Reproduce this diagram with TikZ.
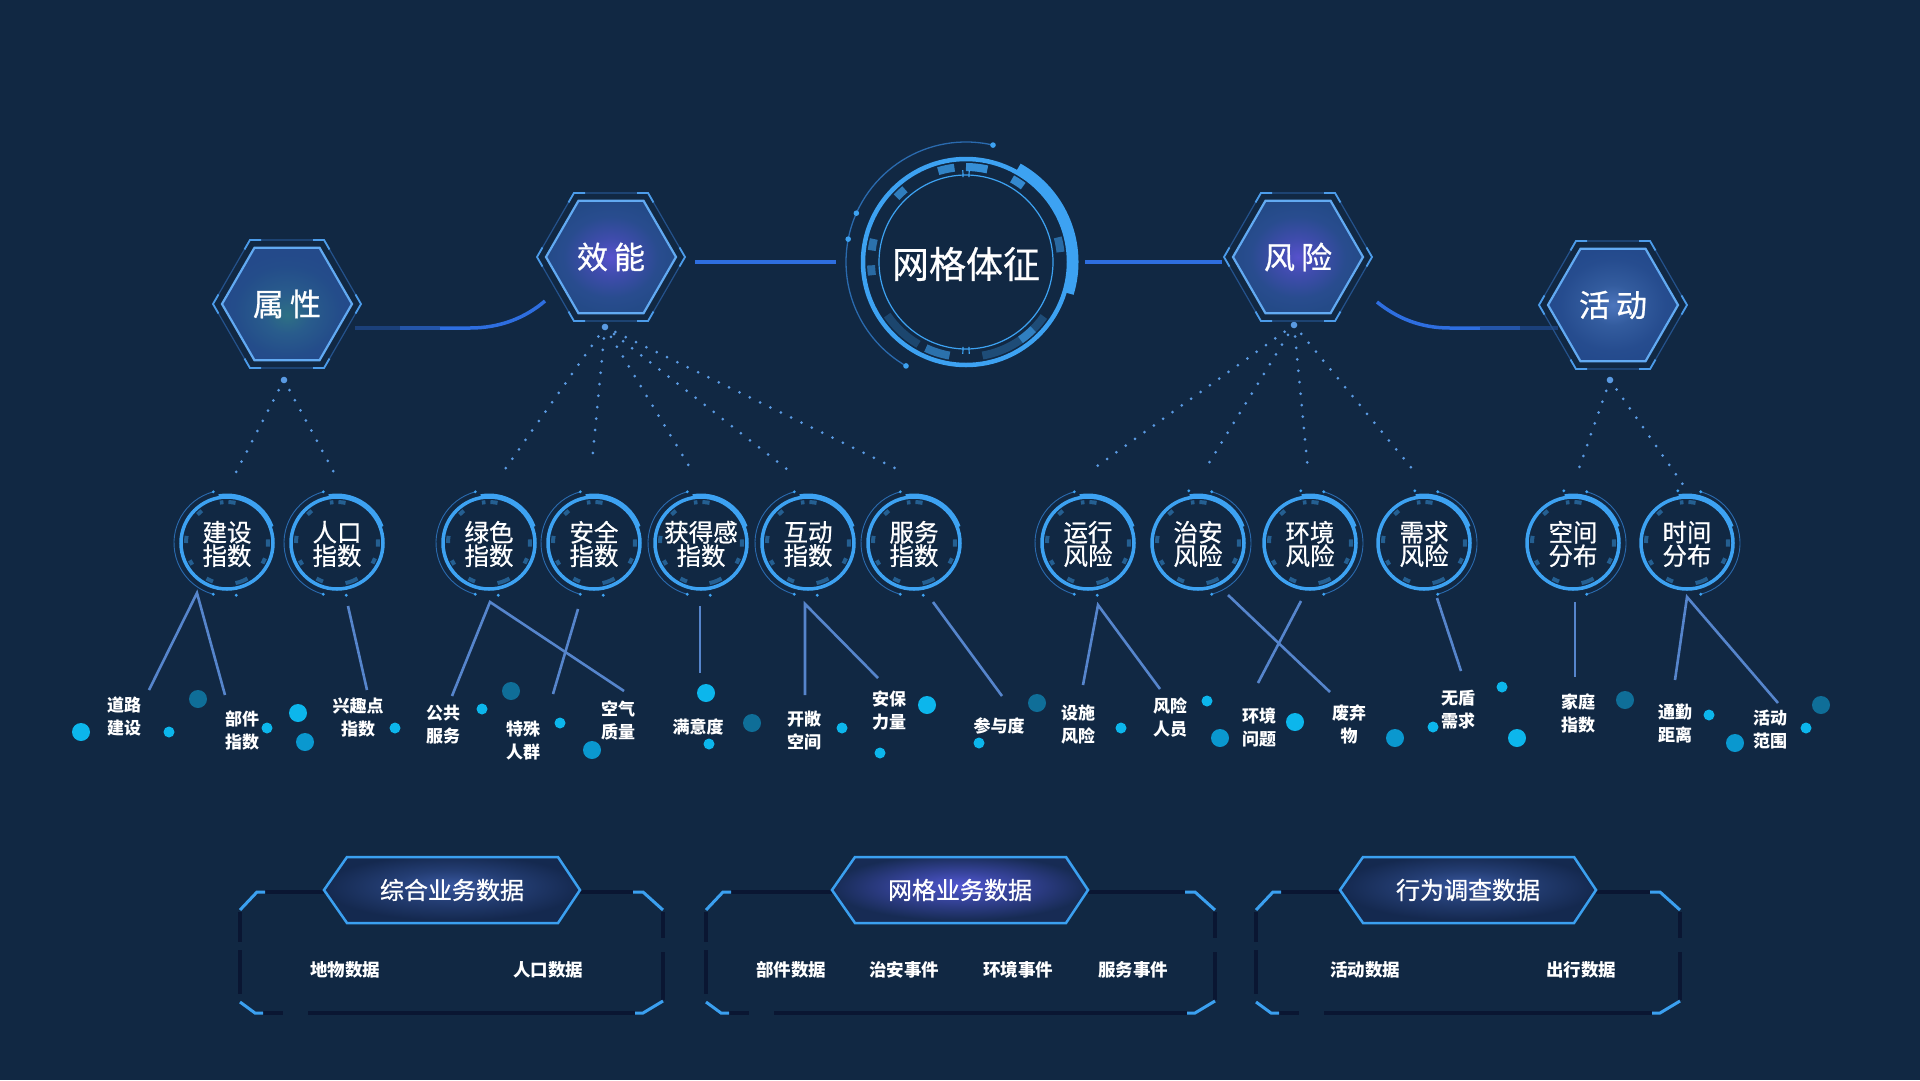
\documentclass[tikz,border=0pt]{standalone}
\usepackage{fontspec}
\setmainfont{Noto Sans CJK SC}
\newfontfamily\medfont{Noto Sans CJK SC}[FakeBold=0.7]
\usetikzlibrary{calc}
\definecolor{bgc}{HTML}{112843}
\definecolor{ringc}{HTML}{3DA2F2}
\definecolor{ringdim}{HTML}{2A6AAE}
\definecolor{hexedge}{HTML}{62AAF2}
\definecolor{hexdim}{HTML}{24528C}
\definecolor{hexbr}{HTML}{4C9CEA}
\definecolor{linkc}{HTML}{2E6EE0}
\definecolor{dotc}{HTML}{5A9AE2}
\definecolor{leafc}{HTML}{5685CC}
\definecolor{bubA}{HTML}{0CB6EC}
\definecolor{bubB}{HTML}{0A98CF}
\definecolor{bubC}{HTML}{0F6E98}
\definecolor{framedark}{HTML}{0A1632}
\definecolor{framebr}{HTML}{3BA0F0}
\pgfdeclareradialshading{glowP}{\pgfpoint{0bp}{0bp}}{rgb(0bp)=(0.34,0.32,0.80); rgb(8bp)=(0.25,0.30,0.68); rgb(18bp)=(0.16,0.30,0.56); rgb(25bp)=(0.14,0.29,0.53); rgb(50bp)=(0.14,0.29,0.53)}
\pgfdeclareradialshading{glowT}{\pgfpoint{0bp}{-5bp}}{rgb(0bp)=(0.18,0.44,0.52); rgb(9bp)=(0.16,0.36,0.55); rgb(20bp)=(0.14,0.30,0.54); rgb(25bp)=(0.14,0.29,0.54); rgb(50bp)=(0.14,0.29,0.54)}
\pgfdeclareradialshading{glowB}{\pgfpoint{0bp}{0bp}}{rgb(0bp)=(0.30,0.46,0.74); rgb(9bp)=(0.20,0.36,0.62); rgb(20bp)=(0.15,0.30,0.56); rgb(25bp)=(0.14,0.29,0.55); rgb(50bp)=(0.14,0.29,0.55)}
\pgfdeclareradialshading{banB}{\pgfpoint{0bp}{4bp}}{rgb(0bp)=(0.22,0.34,0.62); rgb(12bp)=(0.14,0.24,0.45); rgb(25bp)=(0.08,0.16,0.31); rgb(50bp)=(0.08,0.16,0.31)}
\pgfdeclareradialshading{banP}{\pgfpoint{0bp}{4bp}}{rgb(0bp)=(0.32,0.34,0.82); rgb(10bp)=(0.22,0.27,0.62); rgb(25bp)=(0.09,0.17,0.33); rgb(50bp)=(0.09,0.17,0.33)}
\tikzset{
  ringtext/.style={text=white, align=center, font=\medfont\fontsize{24.5}{23.5}\selectfont, inner sep=0pt},
  leaf/.style={text=white, align=center, font=\fontsize{17}{23}\selectfont\bfseries, inner sep=0pt},
  hextext/.style={text=white, font=\medfont\fontsize{31}{31}\selectfont, inner sep=0pt},
  coretext/.style={text=white, font=\medfont\fontsize{37}{37}\selectfont, inner sep=0pt},
  bantext/.style={text=white, font=\medfont\fontsize{24}{24}\selectfont, inner sep=0pt},
  item/.style={text=white, font=\fontsize{17.5}{20}\selectfont\bfseries, inner sep=0pt},
  dotline/.style={draw=dotc, line width=3pt, line cap=round, dash pattern=on 0pt off 11.5pt},
  leafline/.style={draw=leafc, line width=2.6pt},
  link/.style={draw=linkc, line width=4pt},
  frameD/.style={draw=framedark, line width=3.5pt},
  frameB/.style={draw=framebr, line width=3pt, line join=miter},
  bubS/.style={fill=bubA},
  bubL/.style={fill=bubA},
  bubM/.style={fill=bubB},
  bubD/.style={fill=bubC},
}
\newcommand\hexnode[5]{%
  \coordinate (#1c) at (#2,#3);
  \draw[hexdim, line width=1.2pt] ($(#1c)+(0:74pt)$) -- ($(#1c)+(60:74pt)$) -- ($(#1c)+(120:74pt)$) -- ($(#1c)+(180:74pt)$) -- ($(#1c)+(240:74pt)$) -- ($(#1c)+(300:74pt)$) -- cycle;
  \foreach \hh in {0,60,...,300}
    \draw[hexbr, line width=1.8pt] ($(#1c)+(\hh:74pt)+(\hh+120:11pt)$) -- ($(#1c)+(\hh:74pt)$) -- ($(#1c)+(\hh:74pt)+(\hh-120:11pt)$);
  \shade[shading=#5, draw=hexedge, line width=2.2pt, line join=miter]
    ($(#1c)+(0:65pt)$) -- ($(#1c)+(60:65pt)$) -- ($(#1c)+(120:65pt)$) -- ($(#1c)+(180:65pt)$) -- ($(#1c)+(240:65pt)$) -- ($(#1c)+(300:65pt)$) -- cycle;
  \node[hextext] (#1) at (#1c) {#4};
}
\newcommand\ringnode[5]{%
  \coordinate (#1c) at (#2,#3);
  \draw[ringdim, line width=0.9pt] ($(#1c)+(#5+105:53pt)$) arc[start angle=#5+105, end angle=#5+255, radius=53pt];
  \foreach \ra in {105,255,280}
    \fill[ringc] ($(#1c)+(#5+\ra:53pt)$) circle[radius=1.6pt];
  \foreach \sa/\ea in {78/88,95/100,128/136,170/180,205/212,240/250,282/300,330/338,355/365}
    \draw[ringc, opacity=.45, line width=4pt] ($(#1c)+(\sa:41pt)$) arc[start angle=\sa, end angle=\ea, radius=41pt];
  \draw[ringc, line width=3.5pt] (#1c) circle[radius=46pt];
  \draw[ringc, line width=3pt] ($(#1c)+(100:48pt)$) arc[start angle=100, end angle=20, radius=48pt];
  \node[ringtext] (#1) at ([yshift=-1pt]#1c) {#4};
}
\newcommand\panel[7]{%
  \draw[frameD] ({#1+25},892) -- (#3,892) (#4,892) -- ({#2-30},892);
  \draw[frameD, dash pattern=on 30pt off 8pt on 44pt off 8pt] (#1,912) -- (#1,1002);
  \draw[frameD, dash pattern=on 26pt off 14pt on 60pt off 6pt] (#2,912) -- (#2,1000);
  \draw[frameD] ({#1+23},1013) -- ({#1+43},1013) ({#1+68},1013) -- ({#2-28},1013);
  \draw[frameB] ({#1+25},892) -- ({#1+17},892) -- (#1,910);
  \draw[frameB] ({#2-30},892) -- ({#2-20},892) -- (#2,910);
  \draw[frameB] (#1,1002) -- ({#1+15},1013) -- ({#1+23},1013);
  \draw[frameB] ({#2-28},1013) -- ({#2-20},1013) -- (#2,1001);
  \shade[shading=#5, draw=framebr, line width=2.5pt, line join=miter] (#3,890) -- ({#3+23},857) -- ({#4-22},857) -- (#4,890) -- ({#4-22},923) -- ({#3+23},923) -- cycle;
  \node[bantext] (#7) at ({(#3+#4)/2},890) {#6};
}
\begin{document}
\begin{tikzpicture}[x=1pt,y=-1pt]
\fill[bgc] (0,0) rectangle (1920,1080);
\useasboundingbox (0,0) rectangle (1920,1080);

% ---------- links between top-level items
\coordinate (lkA) at (695,262); \coordinate (lkB) at (836,262);
\coordinate (lkC) at (1085,262); \coordinate (lkD) at (1222,262);
\draw[link] (lkA) -- (lkB);
\draw[link] (lkC) -- (lkD);
\coordinate (cvA) at (355,328); \coordinate (cvB) at (400,328); \coordinate (cvC) at (440,328); \coordinate (cvD) at (545,301);
\draw[draw=linkc!35!bgc, line width=3.5pt] (cvA) -- (cvB);
\draw[draw=linkc!65!bgc, line width=3.5pt] (cvB) -- (cvC);
\draw[draw=linkc, line width=3.5pt] (cvC) -- (470,328) .. controls (500,328) and (525,318) .. (cvD);
\coordinate (cvE) at (1377,302); \coordinate (cvF) at (1480,328); \coordinate (cvG) at (1520,328); \coordinate (cvH) at (1558,328);
\draw[draw=linkc, line width=3.5pt] (cvE) .. controls (1397,318) and (1420,328) .. (1450,328) -- (cvF);
\draw[draw=linkc!65!bgc, line width=3.5pt] (cvF) -- (cvG);
\draw[draw=linkc!35!bgc, line width=3.5pt] (cvG) -- (cvH);

% ---------- dotted connectors
\coordinate (sA) at (284,380);
\coordinate (sB) at (605,327);
\coordinate (sC) at (1294,325);
\coordinate (sD) at (1610,380);
\foreach \ex/\ey in {233/478, 337/478}
  \draw[dotline] (sA) -- (\ex,\ey);
\foreach \ex/\ey in {503/472, 592/462, 689/466, 788/470, 901/471}
  \draw[dotline] (sB) -- (\ex,\ey);
\foreach \ex/\ey in {1093/469, 1204/471, 1308/471, 1414/471}
  \draw[dotline] (sC) -- (\ex,\ey);
\foreach \ex/\ey in {1577/474, 1684/486}
  \draw[dotline] (sD) -- (\ex,\ey);
\foreach \s in {sA,sB,sC,sD}
  \fill[dotc] (\s) circle[radius=3.3pt];

% ---------- hexagons
\hexnode{shuxing}{287}{304}{属\hspace{6pt}性}{glowT}
\hexnode{xiaoneng}{611}{257}{效\hspace{6pt}能}{glowP}
\hexnode{fengxian}{1298}{257}{风\hspace{6pt}险}{glowP}
\hexnode{huodong}{1613}{305}{活\hspace{6pt}动}{glowB}

% ---------- central ring
\coordinate (corec) at (966,262);
\draw[ringdim, line width=1.3pt] ($(corec)+(77:120pt)$) arc[start angle=77, end angle=240, radius=120pt];
\foreach \aa in {77,156,169,240}
  \fill[ringc] ($(corec)+(\aa:120pt)$) circle[radius=2.8pt];
\foreach \sa/\ea/\op in {97/107/.75, 77/90/.85, 53/61/.8, 130/137/.7, 166/173/.6, 182/188/.55, 6/15/.55, 214/240/.25, 245/260/.6, 280/325/.3, 305/315/.6}
  \draw[ringc, opacity=\op, line width=8pt] ($(corec)+(\sa:95pt)$) arc[start angle=\sa, end angle=\ea, radius=95pt];
\draw[ringc, line width=1.2pt] (corec) circle[radius=87pt];
\foreach \aa in {88,92,268,272}
  \draw[ringc, line width=1.2pt] ($(corec)+(\aa:85pt)$) -- ($(corec)+(\aa:92pt)$);
\draw[ringc, line width=4.5pt] (corec) circle[radius=103pt];
\draw[ringc, line width=9pt] ($(corec)+(61:108pt)$) arc[start angle=61, end angle=-17, radius=108pt];
\node[coretext] (core) at (966,264) {网格体征};

% ---------- second level rings
\ringnode{jianshe}{227}{543}{建设\\指数}{0}
\ringnode{renkou}{337}{543}{人口\\指数}{0}
\ringnode{lvse}{489}{543}{绿色\\指数}{0}
\ringnode{anquan}{594}{543}{安全\\指数}{0}
\ringnode{huodegan}{701}{543}{获得感\\指数}{0}
\ringnode{hudong}{808}{543}{互动\\指数}{0}
\ringnode{fuwu}{914}{543}{服务\\指数}{0}
\ringnode{yunxing}{1088}{543}{运行\\风险}{0}
\ringnode{zhian}{1198}{543}{治安\\风险}{180}
\ringnode{huanjing}{1310}{543}{环境\\风险}{180}
\ringnode{xuqiu}{1424}{543}{需求\\风险}{180}
\ringnode{kongjian}{1573}{543}{空间\\分布}{180}
\ringnode{shijian}{1687}{543}{时间\\分布}{180}

% ---------- leaf connectors
\coordinate (a1) at (197,593); \coordinate (e1) at (149,690); \coordinate (e2) at (225,695);
\coordinate (a2) at (348,606); \coordinate (e3) at (367,690);
\coordinate (a3) at (490,602); \coordinate (e4) at (452,696); \coordinate (e6) at (624,691);
\coordinate (a4) at (578,609); \coordinate (e5) at (553,694);
\coordinate (a5) at (700,606); \coordinate (e7) at (700,673);
\coordinate (a6) at (805,604); \coordinate (e8) at (805,695); \coordinate (e9) at (878,678);
\coordinate (a7) at (933,602); \coordinate (e10) at (1002,696);
\coordinate (a8) at (1098,605); \coordinate (e11) at (1083,685); \coordinate (e12) at (1160,689);
\coordinate (a9) at (1228,595); \coordinate (e14) at (1330,692);
\coordinate (a10) at (1301,601); \coordinate (e13) at (1258,683);
\coordinate (a11) at (1437,598); \coordinate (e15) at (1461,671);
\coordinate (a12) at (1575,602); \coordinate (e16) at (1575,677);
\coordinate (a13) at (1687,597); \coordinate (e17) at (1675,680); \coordinate (e18) at (1778,703);
\draw[leafline] (e1) -- (a1) -- (e2);
\draw[leafline] (a2) -- (e3);
\draw[leafline] (e4) -- (a3) -- (e6);
\draw[leafline] (a4) -- (e5);
\draw[leafline] (a5) -- (e7);
\draw[leafline] (e8) -- (a6) -- (e9);
\draw[leafline] (a7) -- (e10);
\draw[leafline] (e11) -- (a8) -- (e12);
\draw[leafline] (a9) -- (e14);
\draw[leafline] (a10) -- (e13);
\draw[leafline] (a11) -- (e15);
\draw[leafline] (a12) -- (e16);
\draw[leafline] (e17) -- (a13) -- (e18);

% ---------- bubbles
\foreach \bx/\by in {169/732, 267/728, 395/728, 482/709, 560/723, 709/744, 842/728, 880/753, 979/743, 1121/728, 1207/701, 1433/727, 1502/687, 1709/715, 1806/728}
  \fill[bubS] (\bx,\by) circle[radius=5.5pt];
\foreach \bx/\by in {81/732, 298/713, 706/693, 927/705, 1295/722, 1517/738}
  \fill[bubL] (\bx,\by) circle[radius=9pt];
\foreach \bx/\by in {305/742, 592/750, 1220/738, 1395/738, 1735/743}
  \fill[bubM] (\bx,\by) circle[radius=9pt];
\foreach \bx/\by in {198/699, 511/691, 752/723, 1037/703, 1625/700, 1821/705}
  \fill[bubD] (\bx,\by) circle[radius=9pt];

% ---------- leaves
\node[leaf] (f1) at (124,716) {道路\\建设};
\node[leaf] (f2) at (242,730) {部件\\指数};
\node[leaf] (f3) at (358,718) {兴趣点\\指数};
\node[leaf] (f4) at (443,725) {公共\\服务};
\node[leaf] (f5) at (523,741) {特殊\\人群};
\node[leaf] (f6) at (618,720) {空气\\质量};
\node[leaf] (f7) at (698,727) {满意度};
\node[leaf] (f8) at (804,731) {开敞\\空间};
\node[leaf] (f9) at (889,711) {安保\\力量};
\node[leaf] (f10) at (999,726) {参与度};
\node[leaf] (f11) at (1078,725) {设施\\风险};
\node[leaf] (f12) at (1170,718) {风险\\人员};
\node[leaf] (f13) at (1259,727) {环境\\问题};
\node[leaf] (f14) at (1349,724) {废弃\\物};
\node[leaf] (f15) at (1458,710) {无盾\\需求};
\node[leaf] (f16) at (1578,713) {家庭\\指数};
\node[leaf] (f17) at (1675,724) {通勤\\距离};
\node[leaf] (f18) at (1770,730) {活动\\范围};

% ---------- bottom panels
\panel{240}{663}{324}{580}{banB}{综合业务数据}{p1}
\panel{706}{1215}{832}{1088}{banP}{网格业务数据}{p2}
\panel{1256}{1680}{1340}{1596}{banB}{行为调查数据}{p3}
\node[item] (i1) at (345,970) {地物数据};
\node[item] (i2) at (548,970) {人口数据};
\node[item] (i3) at (791,970) {部件数据};
\node[item] (i4) at (904,970) {治安事件};
\node[item] (i5) at (1018,970) {环境事件};
\node[item] (i6) at (1133,970) {服务事件};
\node[item] (i7) at (1365,970) {活动数据};
\node[item] (i8) at (1581,970) {出行数据};
\end{tikzpicture}
\end{document}
